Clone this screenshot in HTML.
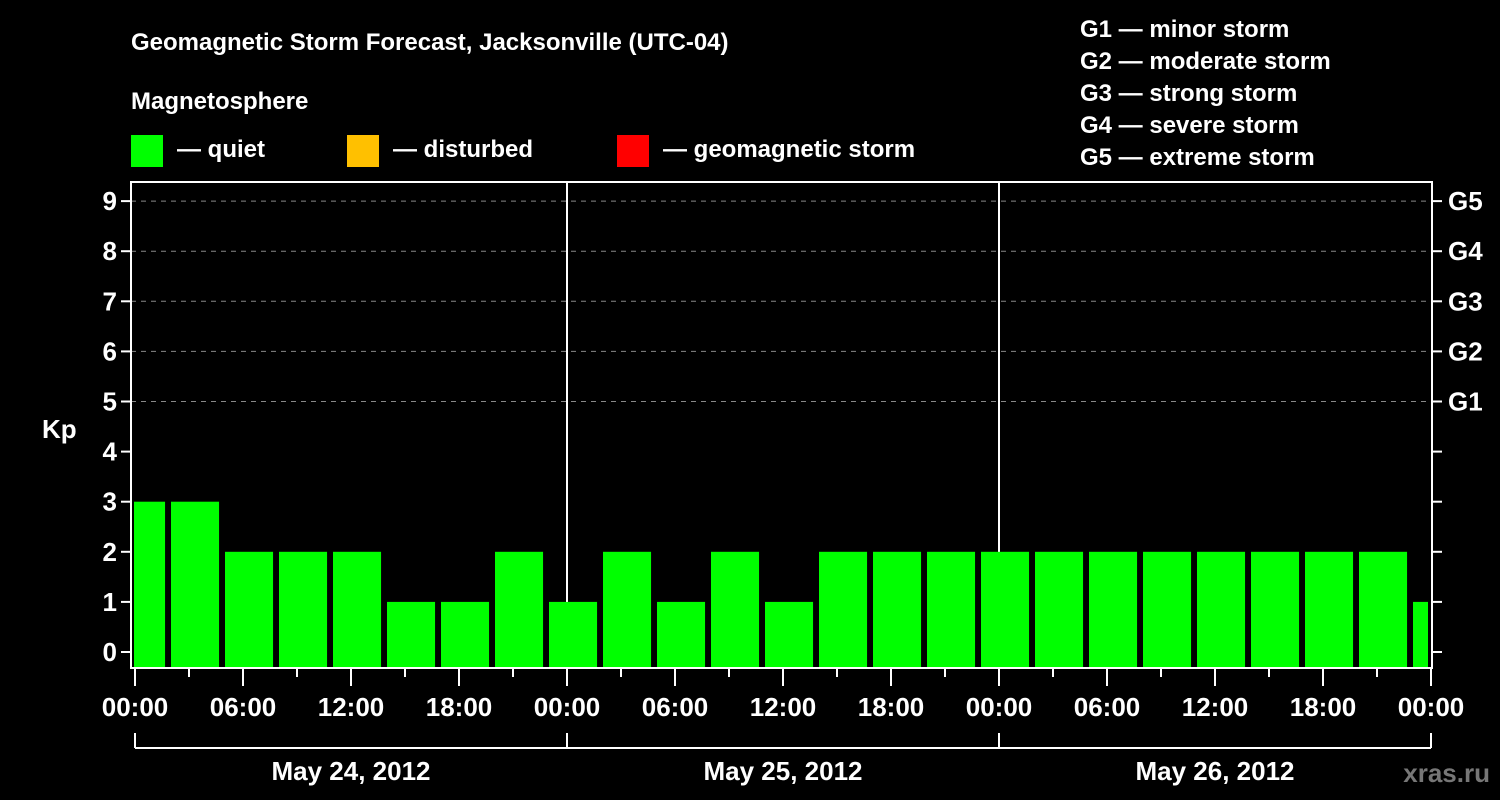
<!DOCTYPE html>
<html><head><meta charset="utf-8"><style>
html,body{margin:0;padding:0;background:#000;}
svg{display:block;font-family:"Liberation Sans",sans-serif;font-weight:bold;}
</style></head><body>
<svg width="1500" height="800" xmlns="http://www.w3.org/2000/svg">
<rect width="1500" height="800" fill="#000"/>
<text x="131" y="50" fill="#fff" font-size="24">Geomagnetic Storm Forecast, Jacksonville (UTC-04)</text>
<text x="131" y="109" fill="#fff" font-size="24">Magnetosphere</text>
<g><rect x="131" y="135" width="32" height="32" fill="#00ff00"/><text x="177" y="157" fill="#fff" font-size="24">— quiet</text></g>
<g><rect x="347" y="135" width="32" height="32" fill="#ffc000"/><text x="393" y="157" fill="#fff" font-size="24">— disturbed</text></g>
<g><rect x="617" y="135" width="32" height="32" fill="#ff0000"/><text x="663" y="157" fill="#fff" font-size="24">— geomagnetic storm</text></g>
<g fill="#fff" font-size="24">
<text x="1080" y="37">G1 — minor storm</text><text x="1080" y="69">G2 — moderate storm</text><text x="1080" y="101">G3 — strong storm</text><text x="1080" y="133">G4 — severe storm</text><text x="1080" y="165">G5 — extreme storm</text>
</g>
<text x="42" y="438" fill="#fff" font-size="26">Kp</text>
<text x="1490" y="782" fill="#777" font-size="26" text-anchor="end">xras.ru</text>
<g id="grid"></g><g id="bars"></g><g id="axes"></g>
<script>
const kpValues=[3,3,2,2,2,1,1,2,1,2,1,2,1,2,2,2,2,2,2,2,2,2,2,2,1];
const yTicks=[0,1,2,3,4,5,6,7,8,9];
const gLabels=["G1","G2","G3","G4","G5"];
const gLevels=[5,6,7,8,9];
const dayLabels=["May 24, 2012","May 25, 2012","May 26, 2012"];
const hourLabels=["00:00","06:00","12:00","18:00"];
const NS="http://www.w3.org/2000/svg";
const L=131,R=1432,T=182,B=668;
const x=h=>135+h*18;
const y=v=>652-v*50.1;
function mk(tag,attrs,parent,txt){const e=document.createElementNS(NS,tag);for(const k in attrs)e.setAttribute(k,attrs[k]);if(txt!==undefined)e.textContent=txt;parent.appendChild(e);return e;}
const grid=document.getElementById('grid'),bars=document.getElementById('bars'),axes=document.getElementById('axes');
yTicks.forEach(v=>{if(v>=5){const g=mk('line',{x1:L,x2:R,y1:y(v),y2:y(v),stroke:'#888','stroke-dasharray':'5,5','stroke-width':1},grid);

}});
[1,2].forEach(d=>{const l=mk('line',{x1:x(24*d),x2:x(24*d),y1:T,y2:B,stroke:'#fff','stroke-width':2},grid);

});
kpValues.forEach((v,k)=>{const h0=-1+3*k;let x0=Math.max(x(h0),L+3),x1=Math.min(x(h0+2.67),R-4);
const r=mk('rect',{x:x0,y:y(v),width:x1-x0,height:B-y(v),fill:v>=5?'#ff0000':(v>=4?'#ffc000':'#00ff00')},bars);

});
const frame=mk('rect',{x:L,y:T,width:R-L,height:B-T,fill:'none',stroke:'#fff','stroke-width':2},axes);


yTicks.forEach(v=>{mk('line',{x1:L-10,x2:L,y1:y(v),y2:y(v),stroke:'#fff','stroke-width':2},axes);
mk('line',{x1:R,x2:R+10,y1:y(v),y2:y(v),stroke:'#fff','stroke-width':2},axes);
const t=mk('text',{x:L-14,y:y(v)+9,fill:'#fff','font-size':26,'text-anchor':'end'},axes,String(v));

});
gLevels.forEach((v,i)=>{const t=mk('text',{x:1448,y:y(v)+9,fill:'#fff','font-size':26},axes,gLabels[i]);

});
for(let h=0;h<=72;h+=3){const major=h%6===0;mk('line',{x1:x(h),x2:x(h),y1:B,y2:B+(major?18:9),stroke:'#fff','stroke-width':2},axes);
if(major){const t=mk('text',{x:x(h),y:716,fill:'#fff','font-size':26,'text-anchor':'middle'},axes,hourLabels[(h/6)%4]);

}}
mk('line',{x1:x(0),x2:x(72),y1:748,y2:748,stroke:'#fff','stroke-width':2},axes);
for(let d=0;d<=3;d++)mk('line',{x1:x(24*d),x2:x(24*d),y1:733,y2:748,stroke:'#fff','stroke-width':2},axes);
dayLabels.forEach((s,d)=>{const t=mk('text',{x:x(24*d+12),y:780,fill:'#fff','font-size':26,'text-anchor':'middle'},axes,s);

});
</script>
</svg>
</body></html>
